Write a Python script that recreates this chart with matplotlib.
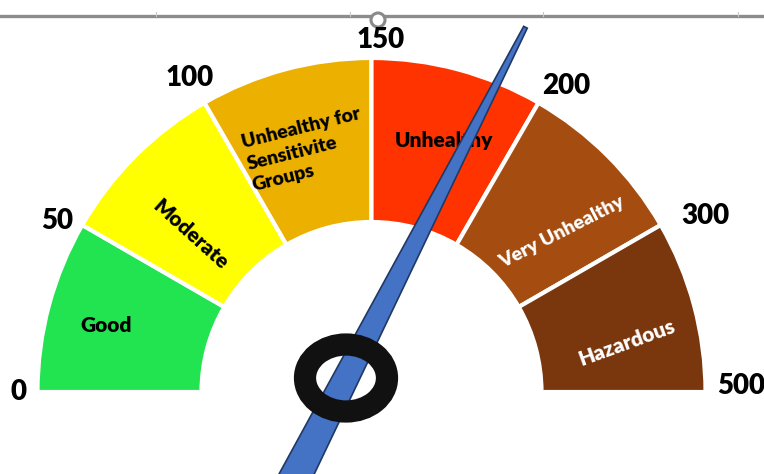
import numpy as np
import matplotlib
matplotlib.use("Agg")
from matplotlib import pyplot as plt
from matplotlib.patches import Wedge, Ellipse, Polygon, Circle

# AQI gauge data
breaks = [0, 50, 100, 150, 200, 300, 500]
categories = ["Good", "Moderate", "Unhealthy for\nSensitivite\nGroups",
              "Unhealthy", "Very Unhealthy", "Hazardous"]
colors = ["#22E350", "#FFFF00", "#EBB000", "#FF3300", "#A54D10", "#7A370D"]
text_colors = ["black", "black", "black", "black", "white", "white"]
needle_value = 188

# style: label placement (angle deg, radius px, rotation, size)
seg_label_ang = [166, 139, 105, 74, 40, 11]
seg_label_r = [274, 240, 251, 262, 249, 260]
seg_label_rot = [0, -42, 14, 0, 27, 20]
seg_label_size = [15, 15, 14, 15, 14, 15]
num_label_r = [353, 358, 363, 352, 363, 377, 370]
num_label_dang = [0, 1.5, 0, -1.4, -2.4, -2.2, 1]

W, H = 764, 474
cx, cy = 371.5, H - 392
r_out, r_in = 334, 170
seg_deg = 180 / (len(breaks) - 1)

plt.rcParams["font.family"] = ["Lato", "DejaVu Sans"]
fig = plt.figure(figsize=(W / 100, H / 100), dpi=100)
ax = fig.add_axes([0, 0, 1, 1])
ax.set_xlim(0, W)
ax.set_ylim(0, H)
ax.axis("off")


def value_to_angle(v):
    for i in range(len(breaks) - 1):
        if breaks[i] <= v <= breaks[i + 1]:
            frac = (v - breaks[i]) / (breaks[i + 1] - breaks[i])
            return 180 - (i + frac) * seg_deg
    return 0


# window-ish top rule
ax.plot([0, W], [H - 16, H - 16], color="#8C8C8C", lw=2.4, zorder=1)
for tx in [156, 350, 543, 738]:
    ax.plot([tx, tx], [H - 16, H - 12], color="#C8C8C8", lw=0.8, zorder=1)
ax.add_patch(Circle((378, H - 20), 7, facecolor="white", edgecolor="#8A8A8A", lw=2.2, zorder=2))

# segments
for i, c in enumerate(colors):
    t1 = 180 - (i + 1) * seg_deg
    t2 = 180 - i * seg_deg
    ax.add_patch(Wedge((cx, cy), r_out, t1, t2, width=r_out - r_in,
                       facecolor=c, edgecolor="white", lw=3, zorder=3))
    a = np.radians(seg_label_ang[i])
    ax.text(cx + seg_label_r[i] * np.cos(a), cy + seg_label_r[i] * np.sin(a),
            categories[i], color=text_colors[i], fontsize=seg_label_size[i], fontweight="heavy",
            rotation=seg_label_rot[i], ha="center", va="center",
            multialignment="left", linespacing=1.35, rotation_mode="anchor", zorder=4)

# boundary numbers
for j, b in enumerate(breaks):
    a = np.radians(180 - j * seg_deg + num_label_dang[j])
    ax.text(cx + num_label_r[j] * np.cos(a), cy + num_label_r[j] * np.sin(a), str(b),
            fontsize=20, fontweight="heavy", ha="center", va="center", zorder=6)

# needle
pivot = (cx - 25.5, cy + 14)
ang = np.radians(value_to_angle(needle_value) - 4.3)
d = np.array([np.cos(ang), np.sin(ang)])
n = np.array([-d[1], d[0]])
p = np.array(pivot)
tip_len, tail_len = 394, 120
tip = p + d * tip_len
tail = p - d * tail_len
ax.add_patch(Polygon([tip + n * 2, tip - n * 2, tail - n * 16, tail + n * 16],
                     closed=True, facecolor="#4472C4", edgecolor="#1F3864", lw=1.2, zorder=7))

# hub ring
ax.add_patch(Ellipse(pivot, 82, 67, fill=False, edgecolor="#111111", lw=16, zorder=8))

fig.savefig("out.png", dpi=100)
